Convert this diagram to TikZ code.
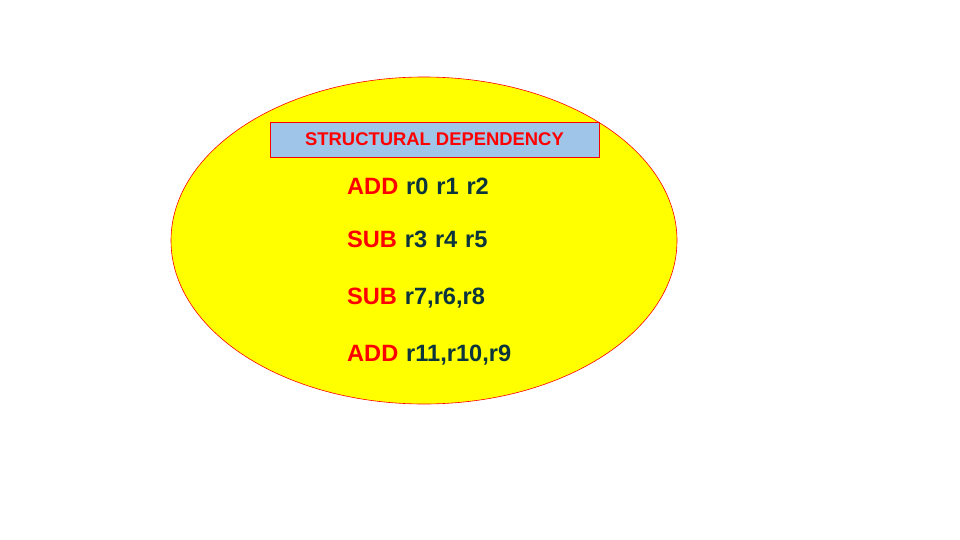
\documentclass[tikz,border=0pt]{standalone}
\usepackage{fontspec}
\setmainfont{Liberation Sans}
\newfontfamily\instrfont[WordSpace=1.2]{Liberation Sans}
\usetikzlibrary{shapes.geometric}

\definecolor{opRed}{RGB}{255,0,0}
\definecolor{regTeal}{HTML}{0C343D}
\definecolor{titleBlue}{HTML}{9FC5E8}
\definecolor{ovalYellow}{RGB}{255,255,0}

\tikzstyle{pipeEllipse}=[shape=ellipse,draw=opRed,fill=ovalYellow,line width=0.6pt,minimum width=506pt,minimum height=327pt,inner sep=0pt]
\tikzstyle{titleBox}=[shape=rectangle,draw=opRed,fill=titleBlue,line width=0.6pt,minimum width=329pt,minimum height=35pt,inner sep=0pt,text=opRed,font=\fontsize{18.4}{20}\selectfont\bfseries]
\tikzstyle{instrLine}=[anchor=base west,inner sep=0pt,text=regTeal,font=\instrfont\fontsize{23.6}{26}\selectfont\bfseries]

\newcommand{\opc}[1]{\textcolor{opRed}{#1}}

\begin{document}
\begin{tikzpicture}[x=1pt,y=-1pt]
        \useasboundingbox (0,0) rectangle (960,540);

        % the ellipse holding everything
        \node[pipeEllipse] (e0) at (424,240.5) {};

        % heading
        \node[titleBox] (h0) at (434.5,139.5) {STRUCTURAL DEPENDENCY};

        % instructions
        \node[instrLine] (i1) at (347,194) {\opc{ADD} r0 r1 r2};
        \node[instrLine] (i2) at (347,247) {\opc{SUB} r3 r4 r5};
        \node[instrLine] (i3) at (347,304) {\opc{SUB} r7,r6,r8};
        \node[instrLine] (i4) at (347,361) {\opc{ADD} r11,r10,r9};
    \end{tikzpicture}
\end{document}
